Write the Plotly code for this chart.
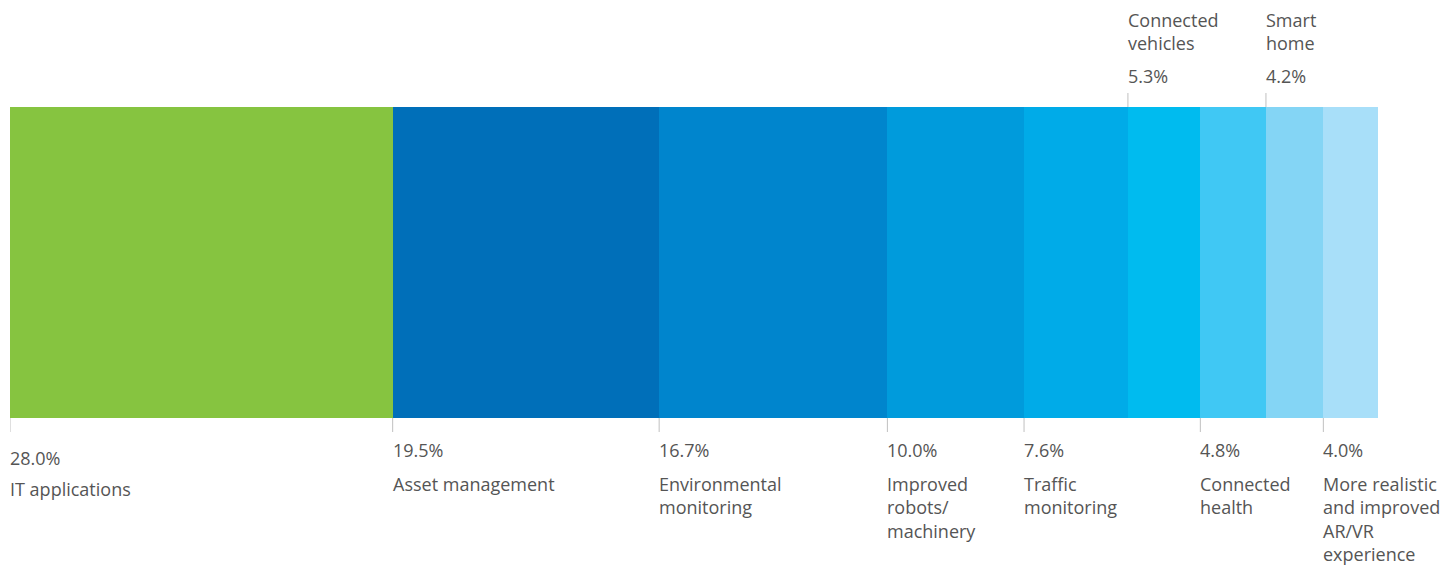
import plotly.graph_objects as go

categories = ["IT applications", "Asset management", "Environmental<br>monitoring",
              "Improved<br>robots/<br>machinery", "Traffic<br>monitoring",
              "Connected<br>vehicles", "Connected<br>health", "Smart<br>home",
              "More realistic<br>and improved<br>AR/VR<br>experience"]
values = [28.0, 19.5, 16.7, 10.0, 7.6, 5.3, 4.8, 4.2, 4.0]
colors = ["#86C440", "#006FB9", "#0085CD", "#009BDC", "#00ABE8",
          "#00BBEF", "#40C8F4", "#84D5F5", "#A8DFF9"]
label_top = [False, False, False, False, False, True, False, True, False]

OFF = 8  # page body margin
W, H = 1455 - OFF, 565 - OFF
top, bottom = 107 - OFF, 418 - OFF
left, right = 10 - OFF, 1378 - OFF
PH = bottom - top

def py(p):
    return (bottom - (p - OFF)) / PH

fig = go.Figure()
for c, v, col in zip(categories, values, colors):
    fig.add_trace(go.Bar(x=[v], y=[0], orientation="h", marker=dict(color=col, line=dict(width=0)),
                         width=1, hoverinfo="skip", showlegend=False))

font = dict(family="Open Sans", size=18, color="#555555")
cum = 0.0
shapes = []
annotations = []
for i, (c, v) in enumerate(zip(categories, values)):
    x0 = cum
    pct = f"{v:.1f}%"
    if label_top[i]:
        shapes.append(dict(type="line", xref="x", yref="paper", x0=x0, x1=x0,
                           y0=py(107), y1=py(93), line=dict(color="#C0C0C0", width=1)))
        annotations.append(dict(x=x0, y=py(76), xref="x", yref="paper", text=pct,
                                xanchor="left", yanchor="middle", showarrow=False, font=font, align="left"))
        annotations.append(dict(x=x0, y=py(7), xref="x", yref="paper", text=c,
                                xanchor="left", yanchor="top", showarrow=False, font=font, align="left"))
    else:
        shapes.append(dict(type="line", xref="x", yref="paper", x0=x0, x1=x0,
                           y0=py(418), y1=py(432), line=dict(color="#C0C0C0", width=1)))
        off = 8 if i == 0 else 0
        annotations.append(dict(x=x0, y=py(450 + off), xref="x", yref="paper", text=pct,
                                xanchor="left", yanchor="middle", showarrow=False, font=font, align="left"))
        annotations.append(dict(x=x0, y=py(471 + off * 0.6), xref="x", yref="paper", text=c,
                                xanchor="left", yanchor="top", showarrow=False, font=font, align="left"))
    cum += v

fig.update_layout(
    barmode="stack", bargap=0,
    width=W, height=H,
    margin=dict(l=left, r=W - right, t=top, b=H - bottom, pad=0),
    paper_bgcolor="white", plot_bgcolor="white",
    xaxis=dict(range=[0, sum(values)], visible=False, fixedrange=True),
    yaxis=dict(range=[-0.5, 0.5], visible=False, fixedrange=True),
    shapes=shapes, annotations=annotations,
)
for a in fig.layout.annotations:
    a.xshift = -1
    a.borderpad = 0
fig.write_html("out.html")
